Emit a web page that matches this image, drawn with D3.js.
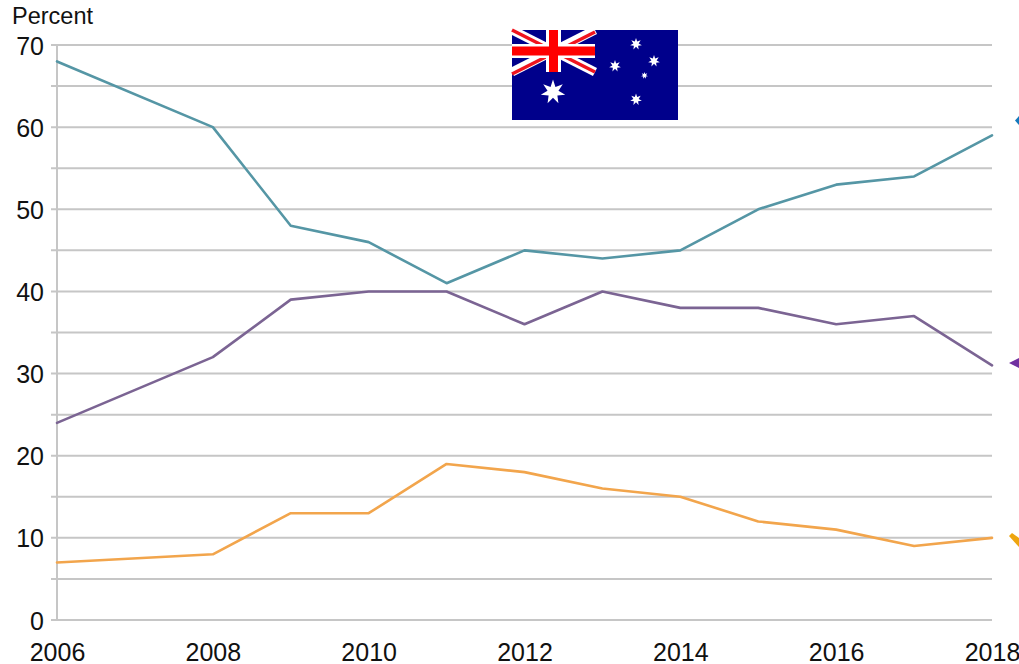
<!DOCTYPE html>
<html>
<head>
<meta charset="utf-8">
<script src="https://cdn.jsdelivr.net/npm/d3@7"></script>
<style>
    html, body { margin: 0; padding: 0; background: #fff; overflow: hidden; }
    svg { display: block; font-family: "Liberation Sans", sans-serif; }
</style>
</head>
<body>
<div id="chart"></div>
<script>
const years = [2006, 2008, 2009, 2010, 2011, 2012, 2013, 2014, 2015, 2016, 2017, 2018];
const tealValues = [68, 60, 48, 46, 41, 45, 44, 45, 50, 53, 54, 59];
const purpleValues = [24, 32, 39, 40, 40, 36, 40, 38, 38, 36, 37, 31];
const orangeValues = [7, 8, 13, 13, 19, 18, 16, 15, 12, 11, 9, 10];
const xTicks = [2006, 2008, 2010, 2012, 2014, 2016, 2018];
const yTicks = [0, 10, 20, 30, 40, 50, 60, 70];
const gridLines = [0, 5, 10, 15, 20, 25, 30, 35, 40, 45, 50, 55, 60, 65, 70];

const width = 1019,
      height = 664,
      margin = ({ top: 45, right: 27, bottom: 44, left: 57 });

const svg = d3.select("#chart")
    .append("svg")
    .attr("width", width)
    .attr("height", height);

const x = d3.scaleLinear()
    .domain([2006, 2018])
    .range([margin.left, width - margin.right]);

const y = d3.scaleLinear()
    .domain([0, 70])
    .range([height - margin.bottom, margin.top]);

// gridlines, they stick out a bit left of the axis
svg.append("g")
    .selectAll("line")
    .data(gridLines)
    .join("line")
    .attr("x1", margin.left - 6)
    .attr("x2", x(2018))
    .attr("y1", d => y(d))
    .attr("y2", d => y(d))
    .attr("stroke", "#c6c6c6")
    .attr("stroke-width", 2);

svg.append("line")
    .attr("x1", x(2006))
    .attr("x2", x(2006))
    .attr("y1", y(70))
    .attr("y2", y(0))
    .attr("stroke", "#c6c6c6")
    .attr("stroke-width", 2);

// axis labels
const yAxis = svg.append("g")
    .attr("transform", `translate(${margin.left - 13},0)`)
    .call(d3.axisLeft(y).tickValues(yTicks).tickSize(0).tickPadding(0));
yAxis.select(".domain").remove();
yAxis.selectAll("text")
    .attr("dy", "0.36em")
    .style("font-family", "Liberation Sans")
    .style("font-size", "25px")
    .style("fill", "#111");

const xAxis = svg.append("g")
    .attr("transform", `translate(0,${y(0) + 19})`)
    .call(d3.axisBottom(x).tickValues(xTicks).tickFormat(d3.format("d")).tickSize(0).tickPadding(0));
xAxis.select(".domain").remove();
xAxis.selectAll("text")
    .attr("dy", "0.86em")
    .style("font-family", "Liberation Sans")
    .style("font-size", "25px")
    .style("fill", "#111");

svg.append("text")
    .attr("x", 12)
    .attr("y", 24)
    .style("font-size", "23.5px")
    .style("fill", "#111")
    .text("Percent");

// lines
const line = d3.line()
    .x((d, i) => x(years[i]))
    .y(d => y(d));

const series = [
    { values: tealValues, color: "#5596a5" },
    { values: purpleValues, color: "#7b6493" },
    { values: orangeValues, color: "#f2a54c" }
];

svg.append("g")
    .selectAll("path")
    .data(series)
    .join("path")
    .attr("fill", "none")
    .attr("stroke", d => d.color)
    .attr("stroke-width", 2.6)
    .attr("stroke-linejoin", "round")
    .attr("stroke-linecap", "round")
    .attr("d", d => line(d.values));

// arrow tips cut off at the right edge of the picture
svg.append("path").attr("fill", "#1479bd").attr("d", "M1015,120.5 L1019,116 L1019,125 Z");
svg.append("path").attr("fill", "#7030a0").attr("d", "M1009,363 L1019,358 L1019,368 Z");
svg.append("path").attr("fill", "#eea50f").attr("d", "M1009,536 L1012,533 L1019,538 L1019,547 Z");

// flag
const flag = svg.append("g").attr("transform", "translate(512,30)");
const flagWidth = 166, flagHeight = 90, cantonW = 83, cantonH = 42;

flag.append("rect")
    .attr("width", flagWidth)
    .attr("height", flagHeight)
    .attr("fill", "#00008b");

const canton = flag.append("g");
[
    [0, 0, cantonW, cantonH],
    [0, cantonH, cantonW, 0]
].forEach(c => {
    canton.append("line")
        .attr("x1", c[0]).attr("y1", c[1]).attr("x2", c[2]).attr("y2", c[3])
        .attr("stroke", "#fff").attr("stroke-width", 9);
    canton.append("line")
        .attr("x1", c[0]).attr("y1", c[1] + (c[1] ? 2 : 0)).attr("x2", c[2]).attr("y2", c[3] + (c[1] ? 2 : 0))
        .attr("stroke", "#f0141e").attr("stroke-width", 3.5);
});
canton.append("rect").attr("x", 34).attr("y", 0).attr("width", 15).attr("height", cantonH).attr("fill", "#fff");
canton.append("rect").attr("x", 0).attr("y", 14).attr("width", cantonW).attr("height", 14).attr("fill", "#fff");
canton.append("rect").attr("x", 37).attr("y", 0).attr("width", 9).attr("height", cantonH).attr("fill", "#ff0000");
canton.append("rect").attr("x", 0).attr("y", 16.5).attr("width", cantonW).attr("height", 9).attr("fill", "#ff0000");

// 7 pointed stars
function star(cx, cy, r) {
    const pts = [];
    for (let i = 0; i < 14; i++) {
        const a = -Math.PI / 2 + i * Math.PI / 7;
        const rr = i % 2 ? r * 0.45 : r;
        pts.push([cx + rr * Math.cos(a), cy + rr * Math.sin(a)]);
    }
    return "M" + pts.join("L") + "Z";
}
flag.selectAll("path.star")
    .data([[41, 62, 12.5], [124, 14, 6], [142, 31, 6], [103, 36, 6], [132.5, 45.5, 3.5], [124, 69.5, 6]])
    .join("path")
    .attr("class", "star")
    .attr("fill", "#fff")
    .attr("d", d => star(d[0], d[1], d[2]));
</script>
</body>
</html>
